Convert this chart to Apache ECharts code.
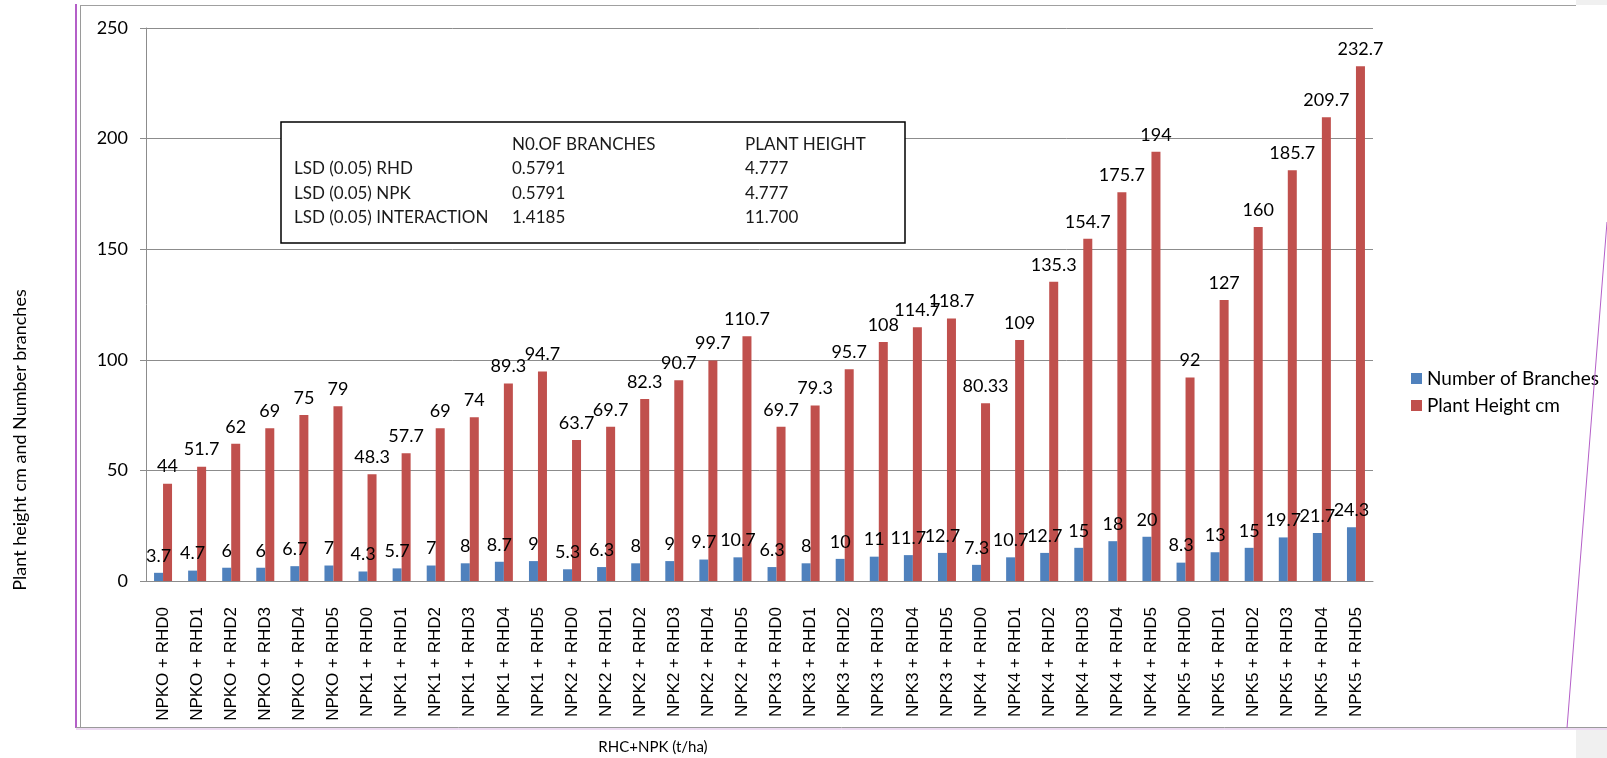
<!DOCTYPE html>
<html>
<head>
<meta charset="utf-8">
<title>Plant height and number of branches</title>
<script src="https://cdn.jsdelivr.net/npm/echarts@6.0.0/dist/echarts.min.js"></script>
<style>
  html, body { margin: 0; padding: 0; background: #fff; }
  #main { width: 1607px; height: 758px; }
</style>
</head>
<body>
<div id="main"></div>
<script>
// data
var categories = [
  'NPKO + RHD0', 'NPKO + RHD1', 'NPKO + RHD2', 'NPKO + RHD3', 'NPKO + RHD4', 'NPKO + RHD5',
  'NPK1 + RHD0', 'NPK1 + RHD1', 'NPK1 + RHD2', 'NPK1 + RHD3', 'NPK1 + RHD4', 'NPK1 + RHD5',
  'NPK2 + RHD0', 'NPK2 + RHD1', 'NPK2 + RHD2', 'NPK2 + RHD3', 'NPK2 + RHD4', 'NPK2 + RHD5',
  'NPK3 + RHD0', 'NPK3 + RHD1', 'NPK3 + RHD2', 'NPK3 + RHD3', 'NPK3 + RHD4', 'NPK3 + RHD5',
  'NPK4 + RHD0', 'NPK4 + RHD1', 'NPK4 + RHD2', 'NPK4 + RHD3', 'NPK4 + RHD4', 'NPK4 + RHD5',
  'NPK5 + RHD0', 'NPK5 + RHD1', 'NPK5 + RHD2', 'NPK5 + RHD3', 'NPK5 + RHD4', 'NPK5 + RHD5'
];
var branches = [
  3.7, 4.7, 6, 6, 6.7, 7,
  4.3, 5.7, 7, 8, 8.7, 9,
  5.3, 6.3, 8, 9, 9.7, 10.7,
  6.3, 8, 10, 11, 11.7, 12.7,
  7.3, 10.7, 12.7, 15, 18, 20,
  8.3, 13, 15, 19.7, 21.7, 24.3
];
var plantHeight = [
  44, 51.7, 62, 69, 75, 79,
  48.3, 57.7, 69, 74, 89.3, 94.7,
  63.7, 69.7, 82.3, 90.7, 99.7, 110.7,
  69.7, 79.3, 95.7, 108, 114.7, 118.7,
  80.33, 109, 135.3, 154.7, 175.7, 194,
  92, 127, 160, 185.7, 209.7, 232.7
];
var seriesNames = ['Number of Branches', 'Plant Height cm'];

// LSD table shown inside the plot
var lsdHeader = ['', 'N0.OF BRANCHES', 'PLANT HEIGHT'];
var lsdRows = ['LSD (0.05) RHD', 'LSD (0.05) NPK', 'LSD (0.05) INTERACTION'];
var lsdBranches = ['0.5791', '0.5791', '1.4185'];
var lsdHeight = ['4.777', '4.777', '11.700'];

var calibri = 'Lato, "Open Sans", sans-serif';
var gridColor = '#8c8c8c';

// build the LSD box graphics
var boxX = 281, boxY = 122, boxW = 624, boxH = 121;
var colX = [294, 512, 745];
var rowY = [145, 169, 194, 218];
var lsdTexts = [];
function addCell(txt, x, y) {
  lsdTexts.push({
    type: 'text', x: x, y: y, z: 101,
    style: { text: txt, fill: '#1a1a1a', font: '17px ' + calibri, verticalAlign: 'middle' }
  });
}
for (var c = 1; c < lsdHeader.length; c++) addCell(lsdHeader[c], colX[c], rowY[0]);
for (var r = 0; r < lsdRows.length; r++) {
  addCell(lsdRows[r], colX[0], rowY[r + 1]);
  addCell(lsdBranches[r], colX[1], rowY[r + 1]);
  addCell(lsdHeight[r], colX[2], rowY[r + 1]);
}

var myChart = echarts.init(document.getElementById('main'));

var labelStyle = {
  show: true,
  position: 'top',
  distance: 8,
  color: '#000',
  fontFamily: calibri,
  fontSize: 18
};

var option = {
  backgroundColor: '#fff',
  animation: false,
  grid: { left: 146, right: 234, top: 28, bottom: 177 },
  legend: {
    data: seriesNames,
    orient: 'vertical',
    left: 1406,
    top: 364,
    itemWidth: 11,
    itemHeight: 11,
    itemGap: 8,
    icon: 'rect',
    textStyle: { fontFamily: calibri, fontSize: 19, color: '#000' }
  },
  xAxis: {
    type: 'category',
    data: categories,
    axisLine: { lineStyle: { color: gridColor } },
    axisTick: { length: 5, lineStyle: { color: gridColor } },
    axisLabel: {
      rotate: 90,
      interval: 0,
      margin: 26,
      color: '#000',
      fontFamily: '"Liberation Sans", Arial, sans-serif',
      fontSize: 17
    }
  },
  yAxis: {
    type: 'value',
    min: 0,
    max: 250,
    interval: 50,
    axisLine: { show: true, lineStyle: { color: gridColor } },
    axisTick: { show: true, length: 6, lineStyle: { color: gridColor } },
    axisLabel: { margin: 18, color: '#000', fontFamily: calibri, fontSize: 18 },
    splitLine: { lineStyle: { color: gridColor, width: 1 } }
  },
  series: [
    {
      name: seriesNames[0],
      type: 'bar',
      data: branches,
      barWidth: 9,
      barGap: '0%',
      itemStyle: { color: '#4f81bd' },
      label: labelStyle
    },
    {
      name: seriesNames[1],
      type: 'bar',
      data: plantHeight,
      barWidth: 9,
      barGap: '0%',
      itemStyle: { color: '#c0504d' },
      label: labelStyle
    }
  ],
  graphic: [
    // page frame from the source document
    { type: 'line', z: 50, shape: { x1: 76, y1: 4, x2: 76, y2: 728 }, style: { stroke: '#b45fc8', lineWidth: 2 } },
    { type: 'line', z: 50, shape: { x1: 80.5, y1: 5, x2: 80.5, y2: 727 }, style: { stroke: '#9a9a9a', lineWidth: 1 } },
    { type: 'line', z: 50, shape: { x1: 80, y1: 5.5, x2: 1576, y2: 5.5 }, style: { stroke: '#a0a0a0', lineWidth: 1 } },
    { type: 'line', z: 50, shape: { x1: 76, y1: 727.5, x2: 1607, y2: 727.5 }, style: { stroke: '#9a9a9a', lineWidth: 1 } },
    { type: 'line', z: 50, shape: { x1: 76, y1: 729, x2: 1607, y2: 729 }, style: { stroke: '#d9b3e3', lineWidth: 1 } },
    { type: 'line', z: 50, shape: { x1: 1607, y1: 222, x2: 1567, y2: 728 }, style: { stroke: '#b45fc8', lineWidth: 1 } },
    { type: 'rect', z: 49, shape: { x: 1576, y: 0, width: 31, height: 5 }, style: { fill: '#f0f0f0' } },
    { type: 'rect', z: 49, shape: { x: 1576, y: 730, width: 31, height: 28 }, style: { fill: '#f0f0f0' } },
    // axis titles
    {
      type: 'text', x: 20, y: 440, rotation: Math.PI / 2, z: 50,
      style: { text: 'Plant height cm and Number branches', fill: '#000', font: '18px ' + calibri, align: 'center', verticalAlign: 'middle' }
    },
    {
      type: 'text', x: 653, y: 747, z: 50,
      style: { text: 'RHC+NPK (t/ha)', fill: '#000', font: '15px ' + calibri, align: 'center', verticalAlign: 'middle' }
    },
    // LSD box
    {
      type: 'rect', z: 100,
      shape: { x: boxX, y: boxY, width: boxW, height: boxH },
      style: { fill: '#fff', stroke: '#000', lineWidth: 1.5 }
    }
  ].concat(lsdTexts)
};

myChart.setOption(option);
</script>
</body>
</html>
